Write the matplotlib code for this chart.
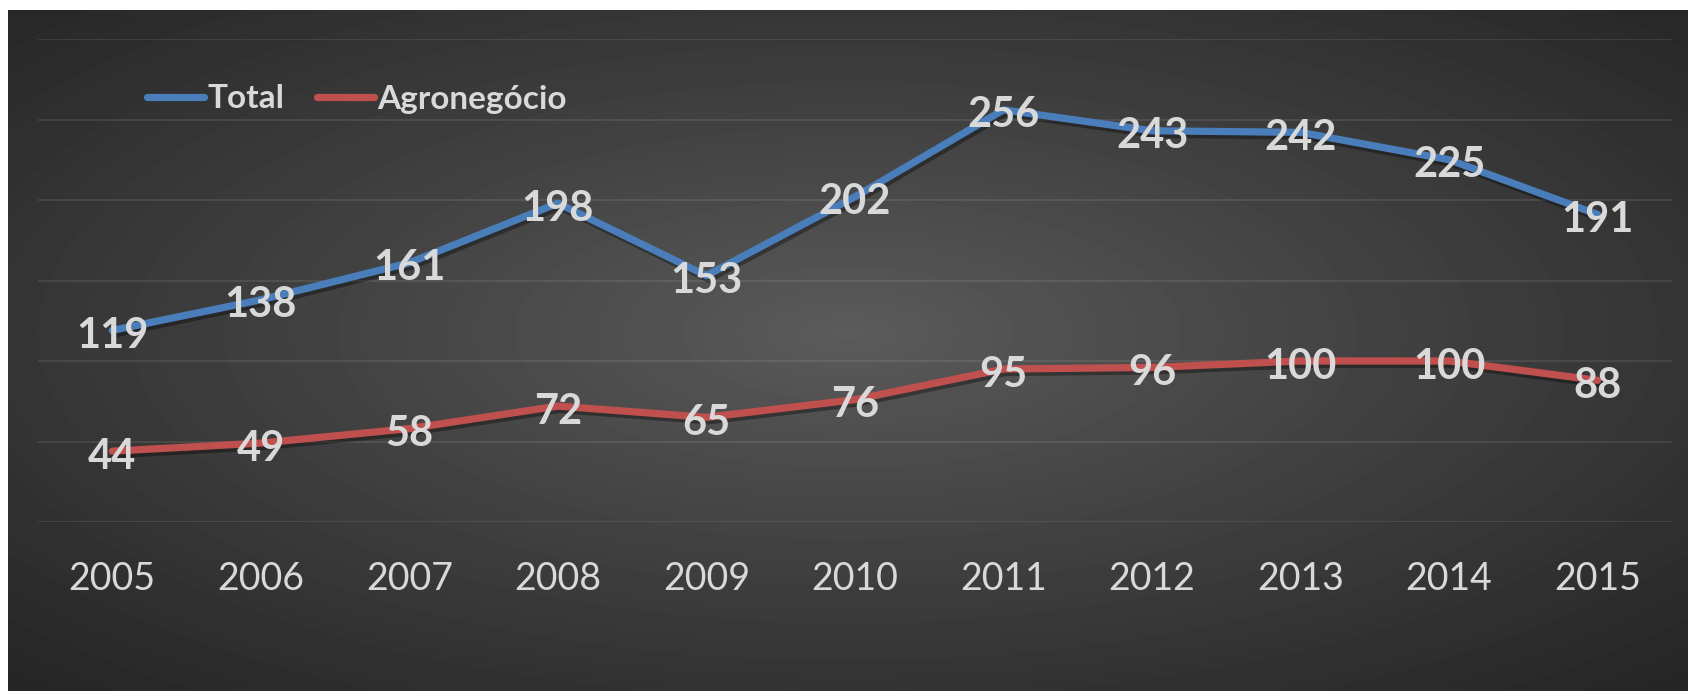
import matplotlib
matplotlib.use("Agg")
import matplotlib.pyplot as plt
import matplotlib.patheffects as pe
import numpy as np

plt.rcParams['font.family'] = ['Lato', 'DejaVu Sans']

years = ['2005', '2006', '2007', '2008', '2009', '2010', '2011', '2012', '2013', '2014', '2015']
total = [119, 138, 161, 198, 153, 202, 256, 243, 242, 225, 191]
agro = [44, 49, 58, 72, 65, 76, 95, 96, 100, 100, 88]

blue = '#4a7ebb'
red = '#c0504d'
text_color = '#d9d9d9'

W, H = 1688, 691
fig = plt.figure(figsize=(W / 100, H / 100), dpi=100, facecolor='white')

# radial gradient background
ax_bg = fig.add_axes([8 / W, 0, 1 - 8 / W, 681 / H])
gx, gy = np.meshgrid(np.linspace(-1, 1, 400), np.linspace(-1, 1, 200))
cy = -0.05
r = np.sqrt(gx ** 2 + ((gy - cy) / 1.0) ** 2) / np.sqrt(2)
r = np.clip(r, 0, 1)
grad = 0.36 - (0.36 - 0.15) * r ** 0.9
ax_bg.imshow(grad, cmap='gray', vmin=0, vmax=1, aspect='auto', extent=(0, 1, 0, 1),
             interpolation='bicubic')
ax_bg.axis('off')

ax = fig.add_axes([38 / W, 169 / H, 1634 / W, 483 / H])
ax.set_facecolor('none')
x = np.arange(len(years))

shadow = [pe.SimpleLineShadow(offset=(1.5, -2.5), shadow_color='black', alpha=0.35), pe.Normal()]
ax.plot(x, total, color=blue, lw=5.2, label='Total', solid_capstyle='round',
        path_effects=shadow, zorder=3)
ax.plot(x, agro, color=red, lw=5.2, label='Agronegócio', solid_capstyle='round',
        path_effects=shadow, zorder=3)

# data labels, centred on the points
for series in (total, agro):
    for xi, v in zip(x, series):
        ax.annotate(str(v), (xi, v), xytext=(0, -4), textcoords='offset points',
                    ha='center', va='center', fontsize=30, fontweight='bold',
                    color=text_color, zorder=5)

ax.set_xlim(-0.5, len(years) - 0.5)
ax.set_ylim(0, 300)
ax.set_yticks(np.arange(0, 301, 50))
ax.yaxis.grid(True, color='white', alpha=0.1, lw=1.2)
ax.set_xticks(x)
ax.set_xticklabels(years, fontsize=27, color=text_color)
ax.tick_params(axis='x', length=0, pad=28)
ax.tick_params(axis='y', left=False, labelleft=False)
for s in ax.spines.values():
    s.set_visible(False)

leg = ax.legend(loc='center left', bbox_to_anchor=(147 / W, 1 - 99 / H), bbox_transform=fig.transFigure,
                ncol=2, frameon=False, borderpad=0, borderaxespad=0, handlelength=1.7,
                handletextpad=0.1, columnspacing=1.0, prop={'size': 24, 'weight': 'bold'})
for t in leg.get_texts():
    t.set_color(text_color)
for h in leg.get_lines():
    h.set_path_effects([])

fig.savefig('out.png', dpi=100, facecolor=fig.get_facecolor())
